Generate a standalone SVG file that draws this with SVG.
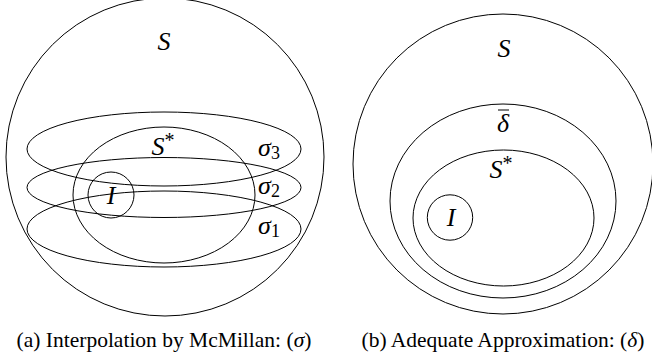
<svg xmlns="http://www.w3.org/2000/svg" width="652" height="362" viewBox="0 0 652 362">
<style>
.sh{fill:none;stroke:#000;stroke-width:1}
.m{font-family:"Liberation Serif","Times New Roman","DejaVu Serif",serif;font-style:italic;font-size:26px;fill:#000;text-anchor:middle}
.sub{font-size:18px;font-style:normal}
.sup{font-size:20px;font-style:normal}
.cap{font-family:"Liberation Serif","Times New Roman","DejaVu Serif",serif;font-size:21.5px;fill:#000;text-anchor:middle}
</style>
<rect width="652" height="362" fill="#fff"/>
<g id="left">
<g id="S-left"><circle class="sh" cx="165" cy="157" r="159"/><text class="m" x="164" y="50">S</text></g>
<g id="sigma3"><ellipse class="sh" cx="164" cy="149" rx="137" ry="37"/><text class="m" x="269" y="156">σ<tspan class="sub" dy="3">3</tspan></text></g>
<g id="sigma2"><ellipse class="sh" cx="164" cy="187.5" rx="137" ry="30"/><text class="m" x="269" y="194">σ<tspan class="sub" dy="3">2</tspan></text></g>
<g id="sigma1"><ellipse class="sh" cx="164" cy="229" rx="137" ry="38"/><text class="m" x="269" y="234">σ<tspan class="sub" dy="3">1</tspan></text></g>
<g id="Sstar-left"><ellipse class="sh" cx="164" cy="195" rx="91" ry="68"/><text class="m" x="163" y="155">S<tspan class="sup" dy="-8">*</tspan></text></g>
<g id="I-left"><circle class="sh" cx="111" cy="195" r="23"/><text class="m" x="111" y="204">I</text></g>
</g>
<g id="right">
<g id="S-right"><circle class="sh" cx="503" cy="164" r="150"/><text class="m" x="504" y="57">S</text></g>
<g id="delta"><ellipse class="sh" cx="503" cy="201" rx="113" ry="97"/><text class="m" x="503" y="132">δ</text><line x1="498" y1="110" x2="509" y2="110" stroke="#000" stroke-width="1"/></g>
<g id="Sstar-right"><ellipse class="sh" cx="503.5" cy="218" rx="90.5" ry="68"/><text class="m" x="501" y="178">S<tspan class="sup" dy="-8">*</tspan></text></g>
<g id="I-right"><circle class="sh" cx="450" cy="217.5" r="22.7"/><text class="m" x="451" y="226">I</text></g>
</g>
<g id="connectors"/>
<text class="cap" x="164" y="347">(a) Interpolation by McMillan: (<tspan font-style="italic">σ</tspan>)</text>
<text class="cap" x="503" y="347">(b) Adequate Approximation: (<tspan font-style="italic">δ</tspan>)</text>
</svg>
